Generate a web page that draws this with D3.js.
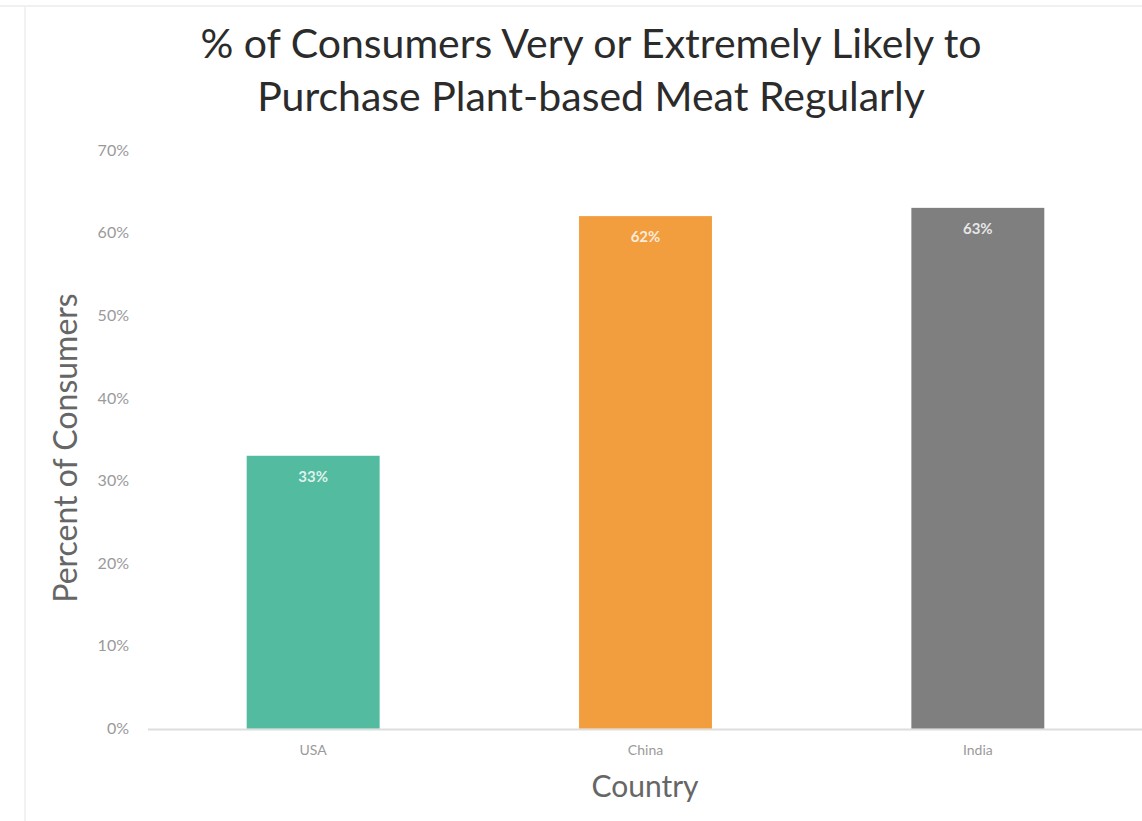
<!DOCTYPE html>
<html><head><meta charset="utf-8">
<script src="https://cdn.jsdelivr.net/npm/d3@7"></script>
<style>body{margin:0;background:#fff}svg{display:block}text{font-family:Lato,"Open Sans",sans-serif}</style>
</head><body>
<svg id="c" width="1142" height="821"></svg>
<script>
const categories = ["USA", "China", "India"];
const values = [33, 62, 63];
const colors = ["#52BBA0", "#F29E3F", "#7F7F7F"];
const yTicks = [0, 10, 20, 30, 40, 50, 60, 70];
const titleLines = ["% of Consumers Very or Extremely Likely to", "Purchase Plant-based Meat Regularly"];

const svg = d3.select("#c");
const x = d3.scaleBand().domain(categories).range([147, 1144]).paddingInner(0.6).paddingOuter(0.3);
const y = d3.scaleLinear().domain([0, 70]).range([728.5, 150]);

// faint frame
svg.append("line").attr("x1",25).attr("x2",25).attr("y1",5).attr("y2",821).attr("stroke","#eee").attr("stroke-width",1.5);
svg.append("line").attr("x1",0).attr("x2",1142).attr("y1",6).attr("y2",6).attr("stroke","#f0f0f0").attr("stroke-width",2);

// title
svg.append("text").attr("x",592).attr("y",58).attr("text-anchor","middle")
  .attr("font-size",41).attr("fill","#2b2b2b")
  .selectAll("tspan").data(titleLines).join("tspan")
  .attr("x",591).attr("dy",(d,i)=>i?53:0).text(d=>d);

// y axis
const ya = svg.append("g").attr("transform","translate(129,0)")
  .call(d3.axisLeft(y).tickValues(yTicks).tickFormat(d=>d+"%").tickSize(0).tickPadding(0));
ya.select(".domain").remove();
ya.selectAll("text").attr("font-size",16).attr("fill","#9a9a9a").attr("font-family","Lato,sans-serif");

// baseline
svg.append("line").attr("x1",148).attr("x2",1142).attr("y1",y(0)+1).attr("y2",y(0)+1).attr("stroke","#ddd").attr("stroke-width",2);

// bars
svg.selectAll("rect.bar").data(values).join("rect").attr("class","bar")
  .attr("x",(d,i)=>x(categories[i])).attr("width",x.bandwidth())
  .attr("y",d=>y(d)).attr("height",d=>y(0)-y(d))
  .attr("fill",(d,i)=>colors[i]);

// value labels
svg.selectAll("text.val").data(values).join("text").attr("class","val")
  .attr("x",(d,i)=>x(categories[i])+x.bandwidth()/2).attr("y",d=>y(d)+26)
  .attr("text-anchor","middle").attr("font-size",15).attr("font-weight","bold")
  .attr("fill","#fff").attr("fill-opacity",0.82).text(d=>d+"%");

// x axis
const xa = svg.append("g").attr("transform",`translate(0,${y(0)})`)
  .call(d3.axisBottom(x).tickSize(0).tickPadding(17));
xa.select(".domain").remove();
xa.selectAll("text").attr("font-size",14).attr("fill","#9a9a9a").attr("font-family","Lato,sans-serif");

// axis titles
svg.append("text").attr("x",645).attr("y",797).attr("text-anchor","middle").attr("font-size",30).attr("fill","#666").text("Country");
svg.append("text").attr("transform","translate(77,448) rotate(-90)").attr("text-anchor","middle").attr("font-size",32).attr("fill","#666").text("Percent of Consumers");
</script>
</body></html>
